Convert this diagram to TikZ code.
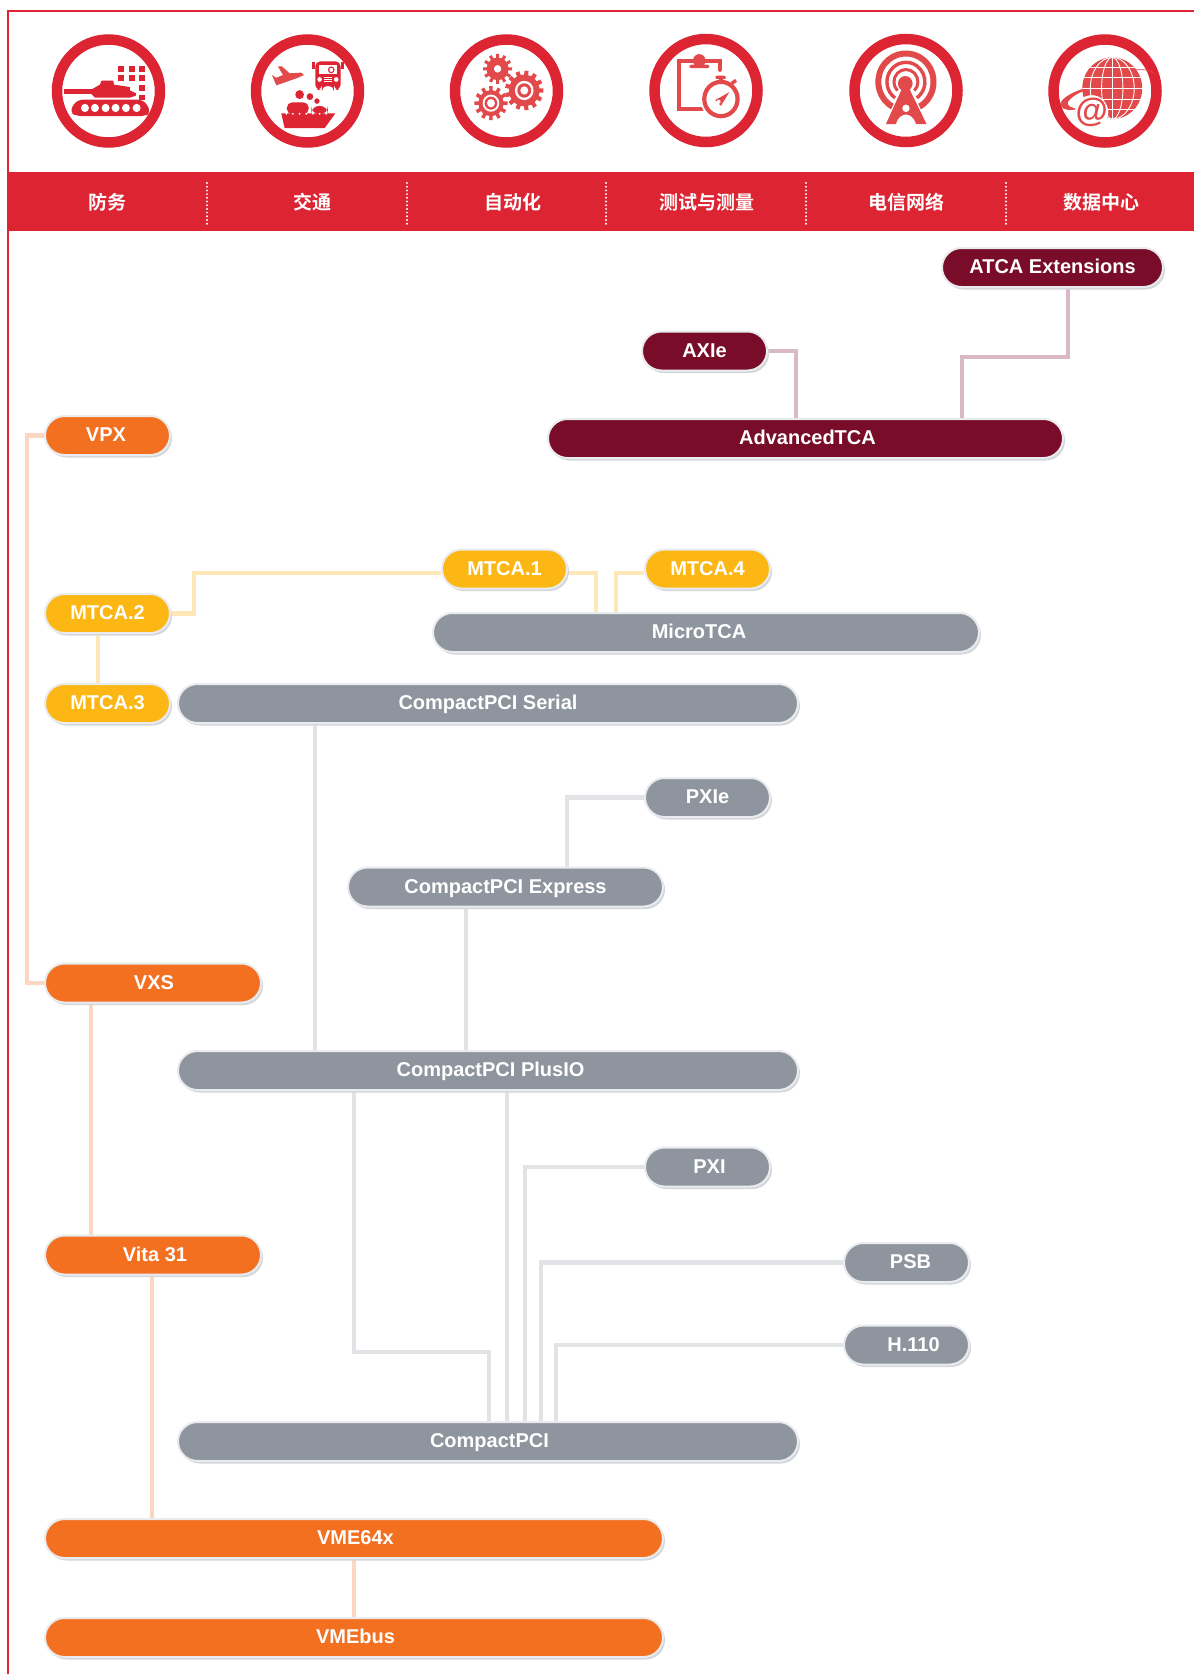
\documentclass[tikz,border=0pt]{standalone}
\usepackage{xcolor}
\usepackage{fontspec}
\setmainfont{Liberation Sans}
\newfontfamily\cjkbold{Noto Sans CJK SC Bold}
\usetikzlibrary{shapes.misc,shadows,backgrounds}

\definecolor{bandred}{HTML}{DC2433}
\definecolor{iconred}{HTML}{E1494A}
\definecolor{wine}{HTML}{780C29}
\definecolor{winelink}{HTML}{D9B9C5}
\definecolor{orangepill}{HTML}{F37021}
\definecolor{orangelink}{HTML}{FBD6C0}
\definecolor{amberpill}{HTML}{FDB714}
\definecolor{amberlink}{HTML}{FEE8B8}
\definecolor{greypill}{HTML}{8F959E}
\definecolor{greylink}{HTML}{E2E3E7}
\definecolor{pillhalo}{HTML}{E9EBEE}
\definecolor{pillshade}{HTML}{D3D6DB}

\tikzset{
    pill/.style={rounded rectangle, draw=pillhalo, line width=2pt, minimum height=39pt, inner sep=0pt,
        text=white, font=\fontsize{20}{20}\selectfont\bfseries, text height=12pt, text depth=0pt,
        drop shadow={shadow xshift=2pt, shadow yshift=-2.5pt, fill=pillshade, opacity=1}},
    orangebar/.style={pill, fill=orangepill},
    amberbar/.style={pill, fill=amberpill},
    greybar/.style={pill, fill=greypill},
    winebar/.style={pill, fill=wine},
    link/.style={line width=4.5pt},
    orangeline/.style={link, orangelink},
    amberline/.style={link, amberlink},
    greyline/.style={link, greylink},
    wineline/.style={link, winelink},
    ring/.style={draw=bandred, line width=10.5pt, fill=white},
    sector/.style={text=white, font=\fontsize{19}{19}\cjkbold},
    divider/.style={white, line width=2.2pt, line cap=round, dash pattern=on 0pt off 3.7pt},
    iconbox/.style={x=0.333pt, y=-0.343pt}
}

% one gear: centre x, centre y, body radius, tip radius, tooth angle
\newcommand{\gearwheel}[5]{
    \fill (#1,#2) circle (#3);
    \foreach \toothangle in {0,#5,...,359} {
        \fill[shift={(#1,#2)}, x=0.333pt, y=-0.343pt] (\toothangle-8:#3-2) -- (\toothangle-6:#4) -- (\toothangle+6:#4) -- (\toothangle+8:#3-2) -- cycle;
    }
}

\begin{document}
\begin{tikzpicture}[x=1pt, y=-1pt]
    \useasboundingbox (0,0) rectangle (1194,1674);

    % frame and band
    \draw[bandred, line width=2.5pt] (8,1674) -- (8,11) -- (1194,11);
    \fill[bandred] (8,172) rectangle (1194,231);
    \draw[divider] (207,183) -- (207,224);
    \draw[divider] (407,183) -- (407,224);
    \draw[divider] (606,183) -- (606,224);
    \draw[divider] (806,183) -- (806,224);
    \draw[divider] (1006,183) -- (1006,224);

    \node[sector] (defence) at (107,202) {防务};
    \node[sector] (traffic) at (312,202) {交通};
    \node[sector] (automation) at (513,202) {自动化};
    \node[sector] (testing) at (707,202) {测试与测量};
    \node[sector] (telecom) at (906,202) {电信网络};
    \node[sector] (datacentre) at (1101,202) {数据中心};

    % round badges
    \draw[ring] (108.5,91) circle (51.5pt);
    \draw[ring] (307.5,91) circle (51.5pt);
    \draw[ring] (506.5,91) circle (51.5pt);
    \draw[ring] (706,90.5) circle (51.5pt);
    \draw[ring] (906,90.5) circle (51.5pt);
    \draw[ring] (1105,91) circle (51.5pt);

    % tank
    \begin{scope}[shift={(50,27)}, iconbox, bandred]
        \fill (42,182) rectangle (128,196);
        \fill (125,182) -- (150,168) -- (155,156) -- (190,156) -- (192,168) -- (240,175) -- (240,185) -- (258,193) -- (258,200) -- (240,206) -- (135,206) -- (125,196) -- cycle;
        \fill[rounded corners=6pt] (80,212) -- (282,212) -- (304,248) -- (288,260) -- (80,260) -- (58,248) -- cycle;
        \fill[white] (105,236) circle (12);
        \fill[white] (135,236) circle (12);
        \fill[white] (167,236) circle (12);
        \fill[white] (197,236) circle (12);
        \fill[white] (228,236) circle (12);
        \fill[white] (260,236) circle (12);
        \fill (204,114) rectangle (222,132);
        \fill (236,114) rectangle (254,132);
        \fill (268,114) rectangle (286,132);
        \fill (204,140) rectangle (222,158);
        \fill (236,140) rectangle (254,158);
        \fill (268,140) rectangle (286,158);
        \fill (268,170) rectangle (286,188);
        \fill (268,197) rectangle (286,212);
    \end{scope}

    % plane, truck, ship
    \begin{scope}[shift={(248,27)}, iconbox, bandred]
        \fill[iconred] (90,115) -- (102,115) -- (125,135) -- (160,133) -- (168,140) -- (150,148) -- (85,170) -- (72,140) -- (85,148) -- (105,140) -- cycle;
        \fill[rounded corners=5pt] (202,183) -- (202,100) -- (278,100) -- (278,183) -- (258,183) -- (258,172) -- (222,172) -- (222,183) -- cycle;
        \fill (192,103) rectangle (200,122);
        \fill (280,103) rectangle (288,122);
        \fill[white] (212,110) rectangle (268,138);
        \fill (250,125) circle (10);
        \fill[white] (250,125) circle (6);
        \fill[white] (215,153) circle (7);
        \fill[white] (265,153) circle (7);
        \draw[white, line width=.8pt] (228,146) -- (252,146);
        \draw[white, line width=.8pt] (228,153) -- (252,153);
        \draw[white, line width=.8pt] (228,160) -- (252,160);
        \fill (155,197) circle (13);
        \fill (186,203) circle (10);
        \fill (207,216) circle (8);
        \fill[rounded corners=5pt] (117,254) -- (117,220) -- (182,220) -- (182,254) -- cycle;
        \fill[rounded corners=8pt] (190,254) -- (190,230) -- (240,230) -- (240,254) -- cycle;
        \fill (100,252) -- (262,252) -- (230,295) -- (110,295) -- cycle;
        \fill[white] (115,253) circle (3);
        \fill[white] (135,253) circle (3);
        \fill[white] (155,253) circle (3);
        \fill[white] (175,253) circle (3);
        \fill[white] (195,253) circle (3);
        \fill[white] (215,253) circle (3);
        \fill[white] (235,253) circle (3);
    \end{scope}

    % gears
    \begin{scope}[shift={(446,27)}, iconbox, iconred]
        \gearwheel{155}{122}{33}{44}{30}
        \fill[white] (155,122) circle (11);
        \gearwheel{135}{222}{38}{50}{30}
        \fill[white] (135,222) circle (25);
        \fill[iconred] (135,222) circle (19);
        \fill[white] (135,222) circle (12);
        \fill[white] (235,185) circle (50);
        \gearwheel{235}{185}{46}{58}{27.7}
        \fill[white] (235,185) circle (28);
        \fill[iconred] (235,185) circle (21);
        \fill[white] (235,185) circle (12);
    \end{scope}

    % clipboard and stopwatch
    \begin{scope}[shift={(646,27)}, iconbox, iconred]
        \draw[line width=4pt, line cap=round] (170,240) -- (98,240) -- (98,100) -- (222,100) -- (222,125);
        \fill (160,98) circle (19);
        \fill[rounded corners=2pt] (130,110) rectangle (190,120);
        \fill[white] (225,210) circle (62);
        \draw[line width=4.2pt] (225,210) circle (50);
        \fill[rounded corners=2pt] (208,142) rectangle (240,152);
        \fill (220,152) rectangle (230,162);
        \fill[rotate around={35:(264,160)}] (256,155) rectangle (272,165);
        \fill (250,190) -- (208,213) -- (225,230) -- cycle;
        \fill[white] (218,218) circle (6);
    \end{scope}

    % tower
    \begin{scope}[shift={(846,27)}, iconbox, iconred]
        \draw[line width=6pt] (180,160) ++(118:83) arc[start angle=118, end angle=422, radius=83];
        \draw[line width=3.4pt] (180,160) ++(125:57) arc[start angle=125, end angle=415, radius=57];
        \draw[line width=3pt] (180,160) ++(135:36) arc[start angle=135, end angle=405, radius=36];
        \draw[white, line width=3pt] (165,190) -- (118,286) -- (242,286) -- (195,190) -- cycle;
        \fill (178,165) circle (22);
        \fill (168,180) -- (190,180) -- (242,283) -- (210,283) .. controls (205,262) and (190,255) .. (180,255) .. controls (170,255) and (155,262) .. (150,283) -- (120,283) -- cycle;
        \fill[white] (180,237) circle (11);
    \end{scope}

    % globe
    \begin{scope}[shift={(1044,30)}, iconbox, iconred]
        \fill (115,172) .. controls (75,185) and (45,205) .. (50,220) .. controls (55,235) and (80,235) .. (105,230) .. controls (80,228) and (68,220) .. (72,210) .. controls (78,198) and (100,185) .. (118,178) -- cycle;
        \draw[line width=.7pt] (262,120) .. controls (285,112) and (315,115) .. (330,125);
        \fill (205,170) circle (90);
        \begin{scope}
            \clip (205,170) circle (90);
            \draw[white, line width=.9pt] (100,108) -- (310,108);
            \draw[white, line width=.9pt] (100,138) -- (310,138);
            \draw[white, line width=.9pt] (100,170) -- (310,170);
            \draw[white, line width=.9pt] (100,202) -- (310,202);
            \draw[white, line width=.9pt] (100,232) -- (310,232);
            \draw[white, line width=.9pt] (205,60) -- (205,280);
            \draw[white, line width=.9pt] (205,170) ellipse (32 and 90);
            \draw[white, line width=.9pt] (205,170) ellipse (66 and 90);
        \end{scope}
        \fill[white] (143,240) circle (50);
        \node[iconred, font=\fontsize{33}{33}\selectfont\bfseries] (atsign) at (143,240) {@};
    \end{scope}

    % wine group
    \node[winebar, minimum width=221pt] (atcaext) at (1052.5,267.5) {ATCA Extensions};
    \node[winebar, minimum width=125pt] (axie) at (704.5,351) {AXIe};
    \node[winebar, minimum width=515pt] (advtca) at (805.5,438.5) {\hspace*{4pt}AdvancedTCA};

    % amber group
    \node[amberbar, minimum width=125pt] (mtcaone) at (504.5,569) {MTCA.1};
    \node[amberbar, minimum width=125pt] (mtcafour) at (707.5,569) {MTCA.4};
    \node[amberbar, minimum width=125pt] (mtcatwo) at (107.5,613.5) {MTCA.2};
    \node[amberbar, minimum width=125pt] (mtcathree) at (107.5,703.5) {MTCA.3};

    % grey group
    \node[greybar, minimum width=546pt] (microtca) at (706,632.5) {MicroTCA\hspace*{14pt}};
    \node[greybar, minimum width=620pt] (serial) at (488,703.5) {CompactPCI Serial};
    \node[greybar, minimum width=125pt] (pxie) at (707.5,797.5) {PXIe};
    \node[greybar, minimum width=315pt] (express) at (505.5,887) {CompactPCI Express};
    \node[greybar, minimum width=620pt] (plusio) at (488,1070.5) {\hspace*{5pt}CompactPCI PlusIO};
    \node[greybar, minimum width=125pt] (pxi) at (707.5,1167) {\hspace*{4pt}PXI};
    \node[greybar, minimum width=125pt] (psb) at (906.5,1262.5) {\hspace*{8pt}PSB};
    \node[greybar, minimum width=125pt] (hone) at (906.5,1345) {\hspace*{14pt}H.110};
    \node[greybar, minimum width=620pt] (compactpci) at (488,1441.5) {\hspace*{3pt}CompactPCI};

    % orange group
    \node[orangebar, minimum width=125pt] (vpx) at (107.5,435.5) {VPX\hspace*{3pt}};
    \node[orangebar, minimum width=216pt] (vxs) at (153,983) {\hspace*{2pt}VXS};
    \node[orangebar, minimum width=216pt] (vita) at (153,1255) {\hspace*{4pt}Vita 31};
    \node[orangebar, minimum width=618pt] (vmesf) at (354,1538.5) {\hspace*{3pt}VME64x};
    \node[orangebar, minimum width=618pt] (vmebus) at (354,1637.5) {\hspace*{3pt}VMEbus};

    \begin{scope}[on background layer]
        \draw[wineline] (atcaext.south -| 1068,0) -- (1068,357) -- (962,357) -- (962,0 |- advtca.north); % ext-adv
        \draw[wineline] (axie.east) -- (796,0 |- axie.east) -- (796,0 |- advtca.north); % axie-adv

        \draw[amberline] (mtcatwo.east) -- (194,0 |- mtcatwo.east) -- (194,573) -- ([yshift=-4pt]mtcaone.west); % two-one
        \draw[amberline] ([yshift=-4pt]mtcaone.east) -- (596,573) -- (596,0 |- microtca.north); % one-micro
        \draw[amberline] ([yshift=-4pt]mtcafour.west) -- (616,573) -- (616,0 |- microtca.north); % four-micro
        \draw[amberline] (98,0 |- mtcatwo.south) -- (98,0 |- mtcathree.north); % two-three

        \draw[greyline] (315,0 |- serial.south) -- (315,0 |- plusio.north); % serial-plusio
        \draw[greyline] (pxie.west) -- (567,0 |- pxie.west) -- (567,0 |- express.north); % pxie-express
        \draw[greyline] (466,0 |- express.south) -- (466,0 |- plusio.north); % express-plusio
        \draw[greyline] (354,0 |- plusio.south) -- (354,1352) -- (489,1352) -- (489,0 |- compactpci.north); % plusio-compactpci
        \draw[greyline] (507,0 |- plusio.south) -- (507,0 |- compactpci.north); % plusio-compactpci
        \draw[greyline] (pxi.west) -- (525,0 |- pxi.west) -- (525,0 |- compactpci.north); % pxi-compactpci
        \draw[greyline] (psb.west) -- (541,0 |- psb.west) -- (541,0 |- compactpci.north); % psb-compactpci
        \draw[greyline] (hone.west) -- (556,0 |- hone.west) -- (556,0 |- compactpci.north); % h110-compactpci

        \draw[orangeline] (vpx.west) -- (27,0 |- vpx.west) -- (27,0 |- vxs.west) -- (vxs.west); % vpx-vxs
        \draw[orangeline] (91,0 |- vxs.south) -- (91,0 |- vita.north); % vxs-vita
        \draw[orangeline] (152,0 |- vita.south) -- (152,0 |- vmesf.north); % vita-vme64x
        \draw[orangeline] (354,0 |- vmesf.south) -- (354,0 |- vmebus.north); % vme64x-vmebus
    \end{scope}
\end{tikzpicture}
\end{document}
